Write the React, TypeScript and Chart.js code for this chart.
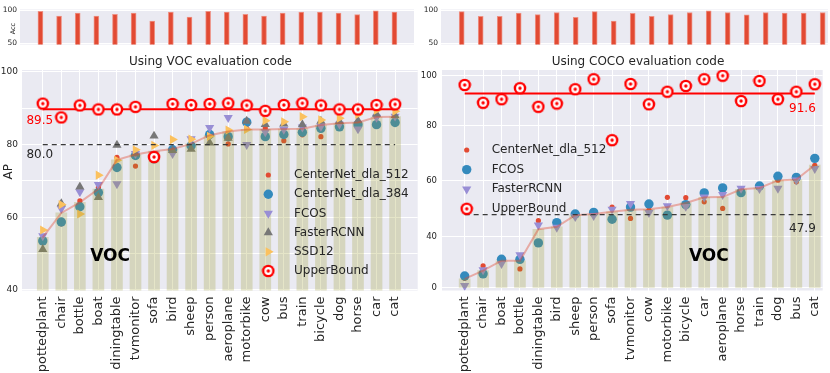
import React, { useEffect, useRef } from 'react';
import { Chart, registerables, LinearScale } from 'chart.js';
import { drawPoint } from 'chart.js/helpers';

Chart.register(...registerables);

const FONT = "'DejaVu Sans', 'Liberation Sans', sans-serif";
Chart.defaults.font.family = FONT;

// ---------------- data : VOC evaluation code ----------------
const vocCategories = ['pottedplant', 'chair', 'bottle', 'boat', 'diningtable', 'tvmonitor', 'sofa', 'bird', 'sheep', 'person', 'aeroplane', 'motorbike', 'cow', 'bus', 'train', 'bicycle', 'dog', 'horse', 'car', 'cat'];
const vocAcc = [98.6, 91.2, 95.8, 91.2, 93.9, 95.8, 83.8, 97.2, 89.8, 98.6, 97.2, 93.9, 91.2, 95.8, 97.2, 97.2, 95.8, 93.5, 99.0, 97.2];
const vocAverage = [54.5, 61.2, 64.1, 67.8, 75.8, 77.3, 78.2, 78.8, 80.2, 82.6, 83.6, 84.2, 84.2, 84.3, 84.4, 85.4, 85.9, 86.1, 87.6, 87.7];
const vocCenterNet512 = [54.2, 58.2, 64.5, 68.2, 76.5, 74.1, 77.0, 78.3, 80.0, 82.3, 80.2, 84.5, 84.6, 81.1, 82.7, 82.2, 85.4, 86.0, 87.6, 87.5];
const vocCenterNet384 = [53.5, 58.7, 62.9, 66.8, 73.7, 77.0, 76.1, 78.6, 79.7, 82.8, 82.2, 86.2, 82.2, 82.8, 83.4, 84.5, 84.9, 85.5, 85.5, 86.1];
const vocFCOS = [54.9, 62.4, 67.0, 69.0, 69.2, 77.5, 77.5, 77.5, 81.6, 84.7, 87.4, 80.0, 83.5, 84.2, 84.8, 85.0, 85.6, 84.3, 87.5, 87.8];
const vocFasterRCNN = [51.2, 63.8, 68.4, 65.5, 79.9, 77.5, 82.4, 78.4, 78.8, 80.5, 81.8, 86.5, 85.6, 85.7, 85.5, 86.5, 86.4, 86.6, 88.4, 88.0];
const vocSSD12 = [56.5, 63.5, 60.9, 71.6, 75.7, 78.6, 79.8, 81.4, 81.5, 82.3, 84.0, 84.2, 86.6, 86.3, 87.7, 86.8, 87.3, 88.3, 89.5, 89.2];
const vocUpperBound = [91.3, 87.5, 90.8, 89.7, 89.7, 90.4, 76.6, 91.2, 90.9, 91.2, 91.4, 90.8, 89.3, 90.9, 91.4, 90.8, 89.7, 89.7, 90.9, 91.1];
const vocUpperBoundLabel = 89.5;
const vocBaseline = 80.0;
const vocYTicks = [40, 50, 60, 70, 80, 90, 100];

// ---------------- data : COCO evaluation code ----------------
const cocoCategories = ['pottedplant', 'chair', 'boat', 'bottle', 'diningtable', 'bird', 'sheep', 'person', 'sofa', 'tvmonitor', 'cow', 'motorbike', 'bicycle', 'car', 'aeroplane', 'horse', 'train', 'dog', 'bus', 'cat'];
const cocoAcc = [98.1, 90.7, 90.7, 95.8, 93.5, 96.7, 89.3, 98.1, 83.8, 95.3, 90.7, 93.5, 96.7, 99.0, 96.7, 93.0, 96.7, 95.8, 95.8, 96.7];
const cocoAverage = [6.9, 13.4, 21.1, 21.1, 42.6, 43.5, 47.7, 48.1, 48.9, 49.6, 49.8, 50.6, 52.1, 54.1, 54.2, 57.0, 57.5, 60.2, 60.5, 65.8];
const cocoCenterNet512 = [7.4, 17.2, 21.5, 14.7, 45.7, 43.8, 47.5, 48.0, 50.6, 46.5, 49.5, 54.1, 54.0, 52.5, 50.1, 57.1, 57.8, 60.3, 59.7, 65.7];
const cocoFCOS = [9.2, 10.9, 22.3, 22.2, 35.0, 45.0, 48.1, 48.7, 46.2, 50.6, 51.7, 47.7, 51.5, 55.7, 57.5, 55.8, 58.2, 61.7, 61.3, 68.2];
const cocoFasterRCNN = [1.6, 14.0, 18.8, 25.7, 44.1, 43.3, 47.1, 47.5, 49.8, 51.8, 48.6, 51.0, 50.8, 54.2, 55.1, 57.3, 57.2, 57.3, 60.3, 64.5];
const cocoUpperBound = [96.3, 89.2, 90.6, 95.0, 87.6, 88.9, 94.6, 98.6, 74.8, 96.7, 88.6, 93.6, 95.9, 98.6, 100.0, 89.9, 97.9, 90.6, 93.6, 96.6];
const cocoUpperBoundLabel = 91.6;
const cocoBaseline = 47.9;
const cocoYTicks = [0, 40, 60, 80, 100];

const accYTicks = [50, 100];

// ---------------- styles ----------------
const C_RED = '#E24A33';
const C_BLUE = '#348ABD';
const C_PURPLE = '#988ED5';
const C_GRAY = '#777777';
const C_YELLOW = '#FBC15E';
const C_BG = '#EAEAF2';
const C_TEXT = '#262626';
const C_BAR = 'rgba(150,150,34,0.25)';
const C_AVGLINE = 'rgba(226,74,51,0.4)';

// axis of the COCO panel: tick values and where they sit (fraction of plot height)
const cocoAxisKnots = [
  { value: 0, at: 0.01224 },
  { value: 40, at: 0.2449 },
  { value: 60, at: 0.4966 },
  { value: 80, at: 0.74694 },
  { value: 100, at: 0.97415 },
];

function knotDecimal(v: number) {
  const k = cocoAxisKnots;
  let i = 0;
  if (v >= k[k.length - 1].value) i = k.length - 2;
  else if (v > k[0].value) { while (v > k[i + 1].value) i++; }
  const a = k[i], b = k[i + 1];
  return a.at + ((v - a.value) * (b.at - a.at)) / (b.value - a.value);
}
function knotValue(d: number) {
  const k = cocoAxisKnots;
  let i = 0;
  if (d >= k[k.length - 1].at) i = k.length - 2;
  else if (d > k[0].at) { while (d > k[i + 1].at) i++; }
  const a = k[i], b = k[i + 1];
  return a.value + ((d - a.at) * (b.value - a.value)) / (b.at - a.at);
}

class KnotScale extends LinearScale {
  static id = 'knotLinear';
  getPixelForValue(value: any) {
    if (value === null || value === undefined || isNaN(value)) return NaN;
    return (this as any).getPixelForDecimal(knotDecimal(value));
  }
  getValueForPixel(pixel: number) {
    return knotValue((this as any).getDecimalForPixel(pixel));
  }
}
Chart.register(KnotScale as any);

type Mark = { color: string; style: any; radius: number; rotation: number };

const pts = (arr: number[]) => arr.map((y, x) => ({ x, y }));
const mean = (arr: number[]) => arr.reduce((s, v) => s + v, 0) / arr.length;

function makeUpperBoundImage() {
  const c = document.createElement('canvas');
  c.width = 14;
  c.height = 14;
  const g = c.getContext('2d')!;
  const disc = (r: number, col: string) => {
    g.fillStyle = col;
    g.beginPath();
    g.arc(7, 7, r, 0, Math.PI * 2);
    g.fill();
  };
  disc(6.3, '#FF0000');
  disc(3.9, '#FFFFFF');
  disc(1.7, '#FF0000');
  return c;
}

function drawMark(ctx: CanvasRenderingContext2D, m: Mark, x: number, y: number) {
  ctx.save();
  ctx.fillStyle = m.color;
  ctx.strokeStyle = m.color;
  drawPoint(ctx, { pointStyle: m.style, radius: m.radius, rotation: m.rotation, borderWidth: 0 } as any, x, y);
  ctx.restore();
}

const areaBackground = {
  id: 'areaBackground',
  beforeDraw(chart: any) {
    const { ctx, chartArea: a } = chart;
    ctx.save();
    ctx.fillStyle = C_BG;
    ctx.fillRect(a.left, a.top, a.right - a.left, a.bottom - a.top);
    ctx.restore();
  },
};

type TextSpec = { text: string; x: number; y: number; data?: boolean; font: string; color: string; rotate?: number };
type LegendSpec = { dx: number; dy: number; step: number; tx: number; items: { label: string; mark: Mark }[] };

function decorPlugin(texts: TextSpec[], legend?: LegendSpec) {
  return {
    id: 'decor',
    afterDraw(chart: any) {
      const { ctx, chartArea, scales } = chart;
      ctx.save();
      for (const t of texts) {
        const x = t.data ? scales.x.getPixelForValue(t.x) : t.x;
        const y = t.data ? scales.y.getPixelForValue(t.y) : t.y;
        ctx.save();
        ctx.translate(x, y);
        if (t.rotate) ctx.rotate(t.rotate);
        ctx.font = t.font;
        ctx.fillStyle = t.color;
        ctx.textAlign = 'center';
        ctx.textBaseline = 'middle';
        ctx.fillText(t.text, 0, 0);
        ctx.restore();
      }
      if (legend) {
        legend.items.forEach((it, k) => {
          const y = chartArea.top + legend.dy + k * legend.step;
          drawMark(ctx, it.mark, chartArea.left + legend.dx, y);
          ctx.font = `12px ${FONT}`;
          ctx.fillStyle = C_TEXT;
          ctx.textAlign = 'left';
          ctx.textBaseline = 'middle';
          ctx.fillText(it.label, chartArea.left + legend.tx, y);
        });
      }
      ctx.restore();
    },
  };
}

function accConfig(values: number[], xMin: number, xMax: number, yWidth: number, padding: any, texts: TextSpec[]) {
  return {
    type: 'bar',
    data: {
      datasets: [
        {
          type: 'bar',
          data: pts(values),
          backgroundColor: C_RED,
          borderColor: '#EE9285',
          borderWidth: 1,
          borderSkipped: 'bottom',
          barThickness: 5,
          clip: 0,
        },
      ],
    },
    options: {
      animation: false,
      responsive: false,
      events: [],
      layout: { padding },
      plugins: { legend: { display: false }, tooltip: { enabled: false }, title: { display: false } },
      scales: {
        x: { type: 'linear', display: false, offset: false, min: xMin, max: xMax, bounds: 'data', grid: { display: false } },
        y: {
          type: 'linear',
          min: 48.2,
          max: 101.2,
          bounds: 'data',
          afterBuildTicks: (s: any) => { s.ticks = accYTicks.map((value) => ({ value })); },
          afterFit: (s: any) => { s.width = yWidth; },
          ticks: { font: { size: 7.5, family: FONT }, color: C_TEXT, padding: 3, callback: (v: any) => String(v) },
          grid: { color: '#FFFFFF', lineWidth: 1, drawTicks: false },
          border: { display: false },
        },
      },
    },
    plugins: [areaBackground, decorPlugin(texts)],
  };
}

type MainSpec = {
  categories: string[];
  average: number[];
  series: { label: string; values: number[]; mark: Mark }[];
  upper: number[];
  upperMark: Mark;
  baseline: number;
  xMin: number;
  xMax: number;
  y: any;
  yWidth: number;
  xHeight: number;
  padding: any;
  texts: TextSpec[];
  legend: LegendSpec;
};

function mainConfig(p: MainSpec) {
  const n = p.categories.length;
  const datasets: any[] = [];
  p.series.forEach((s, k) => {
    datasets.push({
      type: 'line',
      label: s.label,
      data: pts(s.values),
      showLine: false,
      pointStyle: s.mark.style,
      pointRadius: s.mark.radius,
      pointRotation: s.mark.rotation,
      pointBackgroundColor: s.mark.color,
      pointBorderWidth: 0,
      order: 50 - k,
    });
  });
  datasets.push({ type: 'bar', data: pts(p.average), backgroundColor: C_BAR, barThickness: 11, order: 40, clip: 0 });
  datasets.push({ type: 'line', data: pts(p.average), borderColor: C_AVGLINE, borderWidth: 2, pointRadius: 0, tension: 0, order: 30 });
  const ubMean = mean(p.upper);
  datasets.push({ type: 'line', data: [{ x: 0, y: ubMean }, { x: n - 1, y: ubMean }], borderColor: '#FF0000', borderWidth: 2, pointRadius: 0, order: 20 });
  datasets.push({ type: 'line', data: [{ x: 0, y: p.baseline }, { x: n - 1, y: p.baseline }], borderColor: '#3a3a3a', borderDash: [5, 4], borderWidth: 1.3, pointRadius: 0, order: 15 });
  datasets.push({
    type: 'line',
    label: 'UpperBound',
    data: pts(p.upper),
    showLine: false,
    pointStyle: p.upperMark.style,
    pointRadius: p.upperMark.radius,
    order: 10,
  });
  return {
    type: 'bar',
    data: { datasets },
    options: {
      animation: false,
      responsive: false,
      events: [],
      layout: { padding: p.padding },
      plugins: { legend: { display: false }, tooltip: { enabled: false }, title: { display: false } },
      scales: {
        x: {
          type: 'linear',
          offset: false,
          min: p.xMin,
          max: p.xMax,
          bounds: 'data',
          afterBuildTicks: (s: any) => { s.ticks = p.categories.map((_, i) => ({ value: i })); },
          afterFit: (s: any) => { s.height = p.xHeight; s.paddingLeft = 0; s.paddingRight = 0; },
          ticks: {
            autoSkip: false,
            minRotation: 90,
            maxRotation: 90,
            padding: 6,
            font: { size: 13, family: FONT },
            color: C_TEXT,
            callback: (v: any) => p.categories[Math.round(v)] ?? '',
          },
          grid: { color: '#FFFFFF', lineWidth: 1, drawTicks: false, offset: false },
          border: { display: false },
        },
        y: {
          ...p.y,
          bounds: 'data',
          afterFit: (s: any) => { s.width = p.yWidth; },
          grid: { color: '#FFFFFF', lineWidth: 1, drawTicks: false },
          border: { display: false },
        },
      },
    },
    plugins: [areaBackground, decorPlugin(p.texts, p.legend)],
  };
}

export default function App() {
  const topLeft = useRef<HTMLCanvasElement>(null);
  const topRight = useRef<HTMLCanvasElement>(null);
  const mainLeft = useRef<HTMLCanvasElement>(null);
  const mainRight = useRef<HTMLCanvasElement>(null);

  useEffect(() => {
    document.body.style.margin = '0';
    const ub: Mark = { color: '#FF0000', style: makeUpperBoundImage(), radius: 6.3, rotation: 0 };
    const mRedDot: Mark = { color: C_RED, style: 'circle', radius: 2.6, rotation: 0 };
    const mBlue: Mark = { color: C_BLUE, style: 'circle', radius: 4.7, rotation: 0 };
    const mPurpleDown: Mark = { color: C_PURPLE, style: 'triangle', radius: 5.3, rotation: 180 };
    const mGrayUp: Mark = { color: C_GRAY, style: 'triangle', radius: 5.3, rotation: 0 };
    const mYellowRight: Mark = { color: C_YELLOW, style: 'triangle', radius: 5.3, rotation: 90 };

    const vocSeries = [
      { label: 'CenterNet_dla_512', values: vocCenterNet512, mark: mRedDot },
      { label: 'CenterNet_dla_384', values: vocCenterNet384, mark: mBlue },
      { label: 'FCOS', values: vocFCOS, mark: mPurpleDown },
      { label: 'FasterRCNN', values: vocFasterRCNN, mark: mGrayUp },
      { label: 'SSD12', values: vocSSD12, mark: mYellowRight },
    ];
    const cocoSeries = [
      { label: 'CenterNet_dla_512', values: cocoCenterNet512, mark: mRedDot },
      { label: 'FCOS', values: cocoFCOS, mark: mBlue },
      { label: 'FasterRCNN', values: cocoFasterRCNN, mark: mPurpleDown },
    ];

    const charts: Chart[] = [];
    charts.push(
      new Chart(
        topLeft.current!,
        accConfig(vocAcc, -1.097, 20.05, 20, { top: 9.5, right: 4, bottom: 4.3, left: 0 }, [
          { text: 'Acc', x: 13, y: 28.6, font: `6.5px ${FONT}`, color: C_TEXT, rotate: -Math.PI / 2 },
        ]) as any
      )
    );
    charts.push(
      new Chart(topRight.current!, accConfig(cocoAcc, -1.09, 19.28, 23, { top: 9.5, right: 2, bottom: 4.3, left: 0 }, []) as any)
    );
    charts.push(
      new Chart(
        mainLeft.current!,
        mainConfig({
          categories: vocCategories,
          average: vocAverage,
          series: vocSeries,
          upper: vocUpperBound,
          upperMark: ub,
          baseline: vocBaseline,
          xMin: -1.12,
          xMax: 20.22,
          y: {
            type: 'linear',
            min: 39.85,
            max: 100.55,
            afterBuildTicks: (s: any) => { s.ticks = vocYTicks.map((value) => ({ value })); },
            ticks: { font: { size: 9, family: FONT }, color: C_TEXT, padding: 4, callback: (v: any) => (v % 20 === 0 ? String(v) : '') },
          },
          yWidth: 22,
          xHeight: 82.5,
          padding: { top: 18, right: 3, bottom: 0, left: 0 },
          texts: [
            { text: 'Using VOC evaluation code', x: 210.5, y: 9.5, font: `12px ${FONT}`, color: C_TEXT },
            { text: 'AP', x: 9, y: 119.7, font: `12px ${FONT}`, color: C_TEXT, rotate: -Math.PI / 2 },
            { text: vocUpperBoundLabel.toFixed(1), x: -0.16, y: 86.45, data: true, font: `12px ${FONT}`, color: '#FF0000' },
            { text: vocBaseline.toFixed(1), x: -0.16, y: 77.05, data: true, font: `12px ${FONT}`, color: C_TEXT },
            { text: 'VOC', x: 3.63, y: 49.3, data: true, font: `bold 17px ${FONT}`, color: '#000000' },
          ],
          legend: {
            dx: 246.3,
            dy: 105,
            step: 19.2,
            tx: 272,
            items: [...vocSeries.map((s) => ({ label: s.label, mark: s.mark })), { label: 'UpperBound', mark: ub }],
          },
        }) as any
      )
    );
    charts.push(
      new Chart(
        mainRight.current!,
        mainConfig({
          categories: cocoCategories,
          average: cocoAverage,
          series: cocoSeries,
          upper: cocoUpperBound,
          upperMark: ub,
          baseline: cocoBaseline,
          xMin: -1.23,
          xMax: 19.43,
          y: {
            type: 'knotLinear',
            min: -2.1,
            max: 102.3,
            afterBuildTicks: (s: any) => { s.ticks = cocoYTicks.map((value) => ({ value })); },
            ticks: { font: { size: 8.5, family: FONT }, color: C_TEXT, padding: 5, callback: (v: any) => String(v) },
          },
          yWidth: 27,
          xHeight: 82.5,
          padding: { top: 18, right: 2, bottom: 0, left: 0 },
          texts: [
            { text: 'Using COCO evaluation code', x: 223, y: 9.5, font: `12px ${FONT}`, color: C_TEXT },
            { text: cocoUpperBoundLabel.toFixed(1), x: 18.33, y: 86.7, data: true, font: `12px ${FONT}`, color: '#FF0000' },
            { text: cocoBaseline.toFixed(1), x: 18.33, y: 42.7, data: true, font: `12px ${FONT}`, color: C_TEXT },
            { text: 'VOC', x: 13.25, y: 24.4, data: true, font: `bold 17px ${FONT}`, color: '#000000' },
          ],
          legend: {
            dx: 24.7,
            dy: 80,
            step: 19.6,
            tx: 49.7,
            items: [...cocoSeries.map((s) => ({ label: s.label, mark: s.mark })), { label: 'UpperBound', mark: ub }],
          },
        }) as any
      )
    );
    return () => charts.forEach((c) => c.destroy());
  }, []);

  const abs = (left: number, top: number) => ({ position: 'absolute' as const, left, top });
  return (
    <div style={{ position: 'fixed', left: 0, top: 0, width: 830, height: 373, background: '#FFFFFF', overflow: 'hidden' }}>
      <canvas ref={topLeft} width={418} height={52} style={abs(0, 0)} />
      <canvas ref={topRight} width={412} height={52} style={abs(418, 0)} />
      <canvas ref={mainLeft} width={425} height={321} style={abs(0, 52)} />
      <canvas ref={mainRight} width={415} height={321} style={abs(415, 52)} />
    </div>
  );
}
